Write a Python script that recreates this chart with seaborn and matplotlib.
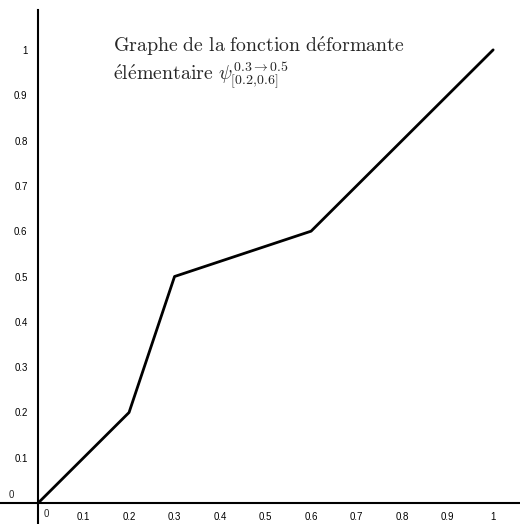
import numpy as np
import pandas as pd
import matplotlib
matplotlib.use("Agg")
import matplotlib.pyplot as plt
import seaborn as sns

x_vals = [0, 0.2, 0.3, 0.6, 1.0]
y_vals = [0, 0.2, 0.5, 0.6, 1.0]
tick_vals = [0.1, 0.2, 0.3, 0.4, 0.5, 0.6, 0.7, 0.8, 0.9, 1.0]
tick_labels = ["0.1", "0.2", "0.3", "0.4", "0.5", "0.6", "0.7", "0.8", "0.9", "1"]
title_line1 = r"$\mathrm{Graphe\ de\ la\ fonction\ d\acute{e}formante}$"
title_line2 = r"$\mathrm{\acute{e}l\acute{e}mentaire}\ \psi^{0.3\to 0.5}_{[0.2{,}0.6]}$"

sns.set_style("white")
plt.rcParams["font.family"] = ["Liberation Sans", "DejaVu Sans"]
plt.rcParams["mathtext.fontset"] = "cm"

fig = plt.figure(figsize=(5.2, 5.24), dpi=100)
ax = fig.add_axes([0, 0, 1, 1])

df = pd.DataFrame({"x": x_vals, "y": y_vals})
sns.lineplot(data=df, x="x", y="y", ax=ax, color="black", linewidth=2, sort=False)

ax.set_xlim(-0.0835, 1.059)
ax.set_ylim(-0.046, 1.110)

for s in ["top", "right"]:
    ax.spines[s].set_visible(False)
ax.spines["left"].set_position(("data", 0))
ax.spines["bottom"].set_position(("data", 0))
ax.spines["left"].set_bounds(-0.046, 1.088)
ax.spines["left"].set_linewidth(1.5)
ax.spines["bottom"].set_linewidth(1.5)
ax.spines["left"].set_color("black")
ax.spines["bottom"].set_color("black")

ax.set_xticks(tick_vals)
ax.set_xticklabels(tick_labels)
ax.set_yticks(tick_vals)
ax.set_yticklabels(tick_labels)
ax.tick_params(axis="both", direction="out", length=2.5, width=1, color="black",
               labelsize=7, labelcolor="black")
ax.tick_params(axis="x", pad=4)
ax.tick_params(axis="y", pad=5)
ax.set_xlabel("")
ax.set_ylabel("")

ax.text(0.012, -0.012, "0", fontsize=7, ha="left", va="top")
ax.text(-0.052, 0.008, "0", fontsize=7, ha="right", va="bottom")

ax.text(0.165, 0.996, title_line1, fontsize=14.3, ha="left", va="baseline")
ax.text(0.165, 0.934, title_line2, fontsize=14.3, ha="left", va="baseline")

fig.savefig("out.png", dpi=100)
